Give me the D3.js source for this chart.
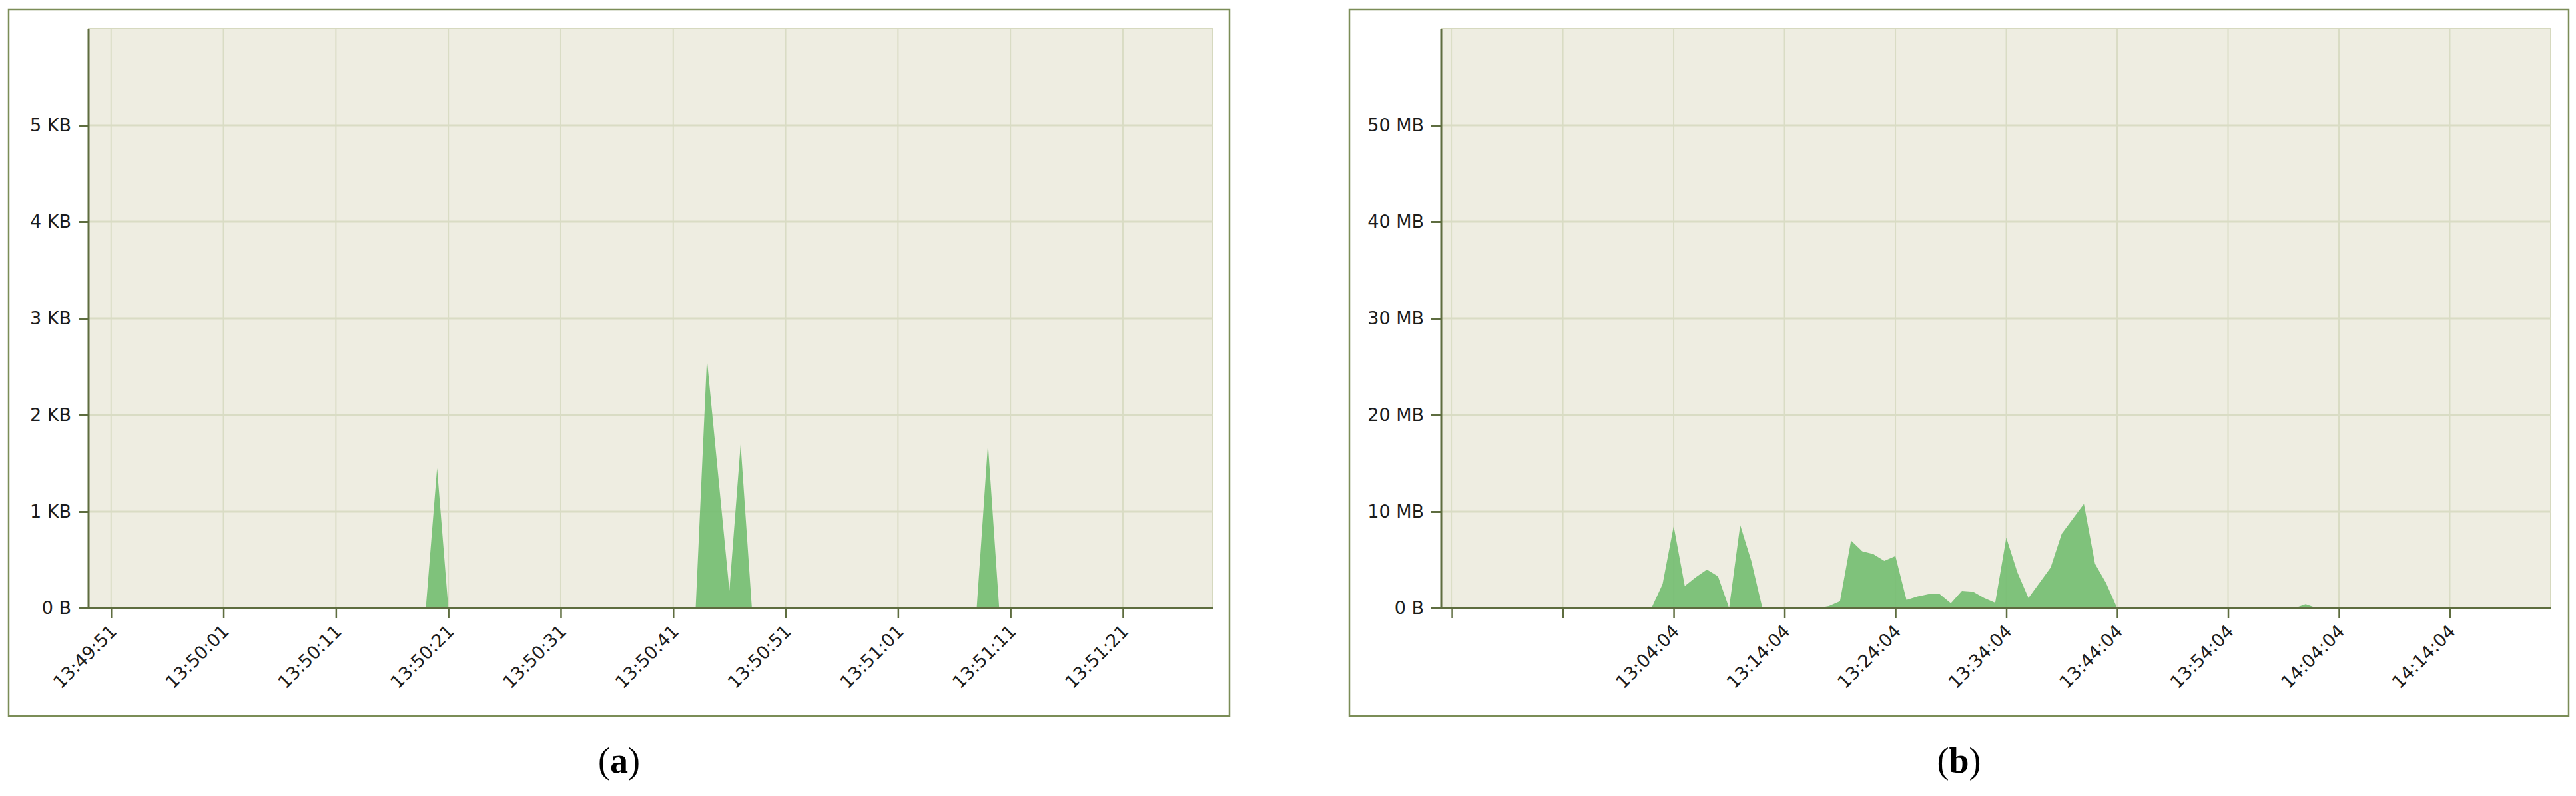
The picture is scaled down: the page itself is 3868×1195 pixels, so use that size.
<!DOCTYPE html>
<html><head><meta charset="utf-8">
<script src="https://cdn.jsdelivr.net/npm/d3@7"></script>
<style>body{margin:0;background:#fff}svg{display:block}</style>
</head><body>
<svg id="chart" width="3868" height="1195"></svg>
<script>
// ---------- DATA ----------
// Panel (a): network traffic in KB, timestamps
const aTimes  = ["13:49:49","13:50:19","13:50:20","13:50:21","13:50:43","13:50:44","13:50:46","13:50:47","13:50:48","13:51:08","13:51:09","13:51:10","13:51:29"];
const aValues = [0, 0, 1.45, 0, 0, 2.58, 0.18, 1.70, 0, 0, 1.70, 0, 0];
const aTickTimes  = ["13:49:51","13:50:01","13:50:11","13:50:21","13:50:31","13:50:41","13:50:51","13:51:01","13:51:11","13:51:21"];
const aYTicks     = [0, 1, 2, 3, 4, 5];
const aYLabels    = ["0 B", "1 KB", "2 KB", "3 KB", "4 KB", "5 KB"];
const aDomainT    = ["13:49:49", "13:51:29"];
const aDomainY    = [0, 6];

// Panel (b): traffic in MB, per-minute timestamps
const bTimes  = ["12:44:04","13:02:04","13:03:04","13:04:04","13:05:04","13:06:04","13:07:04","13:08:04","13:09:04","13:10:04","13:11:04","13:12:04",
                 "13:17:04","13:18:04","13:19:04","13:20:04","13:21:04","13:22:04","13:23:04","13:24:04","13:25:04","13:26:04","13:27:04","13:28:04",
                 "13:29:04","13:30:04","13:31:04","13:32:04","13:33:04","13:34:04","13:35:04","13:36:04","13:38:04","13:39:04","13:41:04","13:42:04",
                 "13:43:04","13:44:04","14:00:04","14:01:04","14:02:04","14:15:04","14:16:04","14:17:04","14:18:04","14:23:04"];
const bValues = [0, 0, 2.5, 8.5, 2.3, 3.2, 4.0, 3.3, 0, 8.6, 4.9, 0,
                 0, 0.2, 0.7, 7.0, 5.9, 5.6, 4.9, 5.4, 0.85, 1.2, 1.45, 1.45,
                 0.5, 1.8, 1.7, 1.05, 0.55, 7.3, 3.7, 1.05, 4.2, 7.7, 10.8, 4.6,
                 2.6, 0, 0, 0.4, 0, 0, 0.1, 0.1, 0, 0];
const bTickTimes  = ["12:44:04","12:54:04","13:04:04","13:14:04","13:24:04","13:34:04","13:44:04","13:54:04","14:04:04","14:14:04"];
const bTickLabels = ["", "", "13:04:04","13:14:04","13:24:04","13:34:04","13:44:04","13:54:04","14:04:04","14:14:04"];
const bYTicks     = [0, 10, 20, 30, 40, 50];
const bYLabels    = ["0 B", "10 MB", "20 MB", "30 MB", "40 MB", "50 MB"];
const bDomainT    = ["12:43:06", "14:23:10"];
const bDomainY    = [0, 60];

// ---------- STYLE ----------
const C = {
  frame: "#7b8d57", plotBg: "#eeede1", grid: "#d9dcc4", axis: "#5e6d3f",
  fill: "#72bd70", text: "#1c1c1c"
};
const FONT = "'DejaVu Sans', Verdana, sans-serif";
const parse = d3.timeParse("%H:%M:%S");
const svg = d3.select("#chart");

function panel(cfg) {
  const g = svg.append("g");
  // outer frame
  g.append("rect").attr("x", cfg.frame[0]).attr("y", cfg.frame[1])
    .attr("width", cfg.frame[2] - cfg.frame[0]).attr("height", cfg.frame[3] - cfg.frame[1])
    .attr("fill", "#fff").attr("stroke", C.frame).attr("stroke-width", 2.5);

  const x = d3.scaleTime().domain(cfg.domainT.map(parse)).range([cfg.plot[0], cfg.plot[2]]);
  const y = d3.scaleLinear().domain(cfg.domainY).range([cfg.plot[3], cfg.plot[1]]);

  // plot background
  g.append("rect").attr("x", cfg.plot[0]).attr("y", cfg.plot[1])
    .attr("width", cfg.plot[2] - cfg.plot[0]).attr("height", cfg.plot[3] - cfg.plot[1])
    .attr("fill", C.plotBg).attr("stroke", "#d6d9bf").attr("stroke-width", 2);

  const ticksT = cfg.tickTimes.map(parse);
  // grid
  g.append("g").selectAll("line.v").data(ticksT).join("line")
    .attr("x1", d => x(d)).attr("x2", d => x(d))
    .attr("y1", cfg.plot[1]).attr("y2", cfg.plot[3])
    .attr("stroke", C.grid).attr("stroke-width", 2);
  g.append("g").selectAll("line.h").data(cfg.yTicks.slice(1)).join("line")
    .attr("x1", cfg.plot[0]).attr("x2", cfg.plot[2])
    .attr("y1", d => y(d)).attr("y2", d => y(d))
    .attr("stroke", C.grid).attr("stroke-width", 3);

  // area
  const pts = cfg.times.map((t, i) => ({t: parse(t), v: cfg.values[i]}));
  const area = d3.area().x(d => x(d.t)).y0(y(0)).y1(d => y(d.v));
  g.append("path").datum(pts).attr("d", area)
    .attr("fill", C.fill).attr("fill-opacity", 0.9);

  // axes
  const xAxis = d3.axisBottom(x).tickValues(ticksT).tickSize(15).tickSizeOuter(0)
    .tickFormat((d, i) => cfg.tickLabels[i]);
  const gx = g.append("g").attr("transform", `translate(0,${cfg.plot[3]})`).call(xAxis);
  gx.select(".domain").attr("stroke", C.axis).attr("stroke-width", 3)
    .attr("d", `M${cfg.plot[0] - 1.5},0H${cfg.plot[2]}`);
  gx.selectAll(".tick line").attr("stroke", C.axis).attr("stroke-width", 2.5);
  gx.selectAll(".tick text")
    .attr("font-family", FONT).attr("font-size", 27).attr("fill", C.text)
    .attr("text-anchor", "end")
    .attr("transform", "translate(3,30) rotate(-45)")
    .attr("x", 0).attr("y", 0).attr("dy", "0.35em");

  const yAxis = d3.axisLeft(y).tickValues(cfg.yTicks).tickSize(15).tickSizeOuter(0)
    .tickFormat((d, i) => cfg.yLabels[i]).tickPadding(11);
  const gy = g.append("g").attr("transform", `translate(${cfg.plot[0]},0)`).call(yAxis);
  gy.select(".domain").attr("stroke", C.axis).attr("stroke-width", 3)
    .attr("d", `M0,${cfg.plot[1]}V${cfg.plot[3] + 1.5}`);
  gy.selectAll(".tick line").attr("stroke", C.axis).attr("stroke-width", 3);
  gy.selectAll(".tick text").attr("font-family", FONT).attr("font-size", 27).attr("fill", C.text);

  // caption
  const cap = svg.append("text").attr("x", (cfg.frame[0] + cfg.frame[2]) / 2).attr("y", 1160)
    .attr("text-anchor", "middle").attr("font-family", "'Liberation Serif', 'Times New Roman', serif")
    .attr("font-size", 54).attr("fill", "#000");
  cap.append("tspan").text("(");
  cap.append("tspan").attr("font-weight", "bold").text(cfg.caption);
  cap.append("tspan").text(")");
}

panel({
  frame: [13, 14, 1846, 1075], plot: [133, 43, 1821, 913],
  times: aTimes, values: aValues, tickTimes: aTickTimes, tickLabels: aTickTimes,
  yTicks: aYTicks, yLabels: aYLabels, domainT: aDomainT, domainY: aDomainY, caption: "a"
});
panel({
  frame: [2026, 14, 3857, 1075], plot: [2164, 43, 3830, 913],
  times: bTimes, values: bValues, tickTimes: bTickTimes, tickLabels: bTickLabels,
  yTicks: bYTicks, yLabels: bYLabels, domainT: bDomainT, domainY: bDomainY, caption: "b"
});
</script>
</body></html>
